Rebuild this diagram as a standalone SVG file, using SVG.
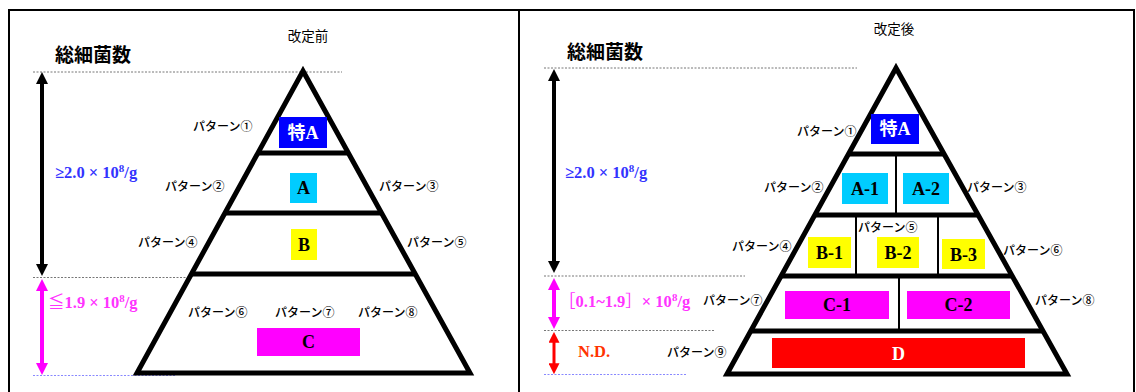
<svg xmlns="http://www.w3.org/2000/svg" width="1136" height="392" viewBox="0 0 1136 392">
<style>
.frame{fill:none;stroke:#000;stroke-width:2}
.tri{fill:#fff;stroke:#000;stroke-width:5;stroke-linejoin:miter}
.hl{stroke:#000;stroke-width:5}
.vl{stroke:#000;stroke-width:2}
.dash{stroke:#777;stroke-width:1;stroke-dasharray:2,1.5}
.dashb{stroke:#8888ff;stroke-width:1;stroke-dasharray:2,1.5}
.lbl{font-family:"Noto Sans CJK JP","Noto Sans",sans-serif;font-size:12px;font-weight:500;fill:#000}
.ttl{font-family:"Noto Sans CJK JP",sans-serif;font-size:13.5px;fill:#000}
.head{font-family:"Noto Sans CJK JP",sans-serif;font-size:19px;font-weight:bold;fill:#000}
.box{font-family:"Liberation Serif","Noto Sans CJK JP",serif;font-size:18px;font-weight:bold;text-anchor:middle}
.rng{font-family:"Liberation Serif","Noto Sans CJK JP",serif;font-size:16.5px;font-weight:bold}
</style>
<defs>
<marker id="hk" viewBox="0 0 12 12" refX="2" refY="6" markerWidth="12" markerHeight="12" markerUnits="userSpaceOnUse" orient="auto-start-reverse"><path d="M0,0 L12,6 L0,12 z" fill="#000"/></marker>
<marker id="hm" viewBox="0 0 12 12" refX="2" refY="6" markerWidth="12" markerHeight="12" markerUnits="userSpaceOnUse" orient="auto-start-reverse"><path d="M0,0 L12,6 L0,12 z" fill="#ff00ff"/></marker>
<marker id="hr" viewBox="0 0 12 12" refX="2" refY="6" markerWidth="11" markerHeight="11" markerUnits="userSpaceOnUse" orient="auto-start-reverse"><path d="M0,0 L12,6 L0,12 z" fill="#ff0000"/></marker>
</defs>

<rect class="frame" x="9" y="10" width="510" height="400"/>
<rect class="frame" x="519" y="10" width="615" height="400"/>

<!-- LEFT PANEL -->
<g id="left-header">
<text class="ttl" x="308" y="41" text-anchor="middle">改定前</text>
<text class="head" x="55" y="62">総細菌数</text>
</g>
<g id="left-guides">
<line class="dash" x1="33" y1="72" x2="342" y2="72"/>
<line class="dash" x1="33" y1="277.5" x2="232" y2="277.5"/>
<line class="dashb" x1="33" y1="375.5" x2="176" y2="375.5"/>
</g>
<g id="left-pyramid">
<polygon class="tri" points="303,71 137,373 470,373"/>
<line class="hl" x1="258" y1="153" x2="348" y2="153"/>
<line class="hl" x1="225" y1="213" x2="381" y2="213"/>
<line class="hl" x1="191" y1="274" x2="415" y2="274"/>
</g>
<g id="left-tokuA"><rect x="279" y="117" width="48" height="31" fill="#0000ff"/><text class="box" x="303" y="139" fill="#fff">特A</text></g>
<g id="left-A"><rect x="290" y="173" width="27" height="30" fill="#00ccff"/><text class="box" x="303.5" y="194" fill="#000">A</text></g>
<g id="left-B"><rect x="291" y="229" width="26" height="31" fill="#ffff00"/><text class="box" x="304" y="251" fill="#000">B</text></g>
<g id="left-C"><rect x="257" y="328" width="103" height="28" fill="#ff00ff"/><text class="box" x="308.5" y="348" fill="#000">C</text></g>
<g id="left-labels">
<text class="lbl" x="193" y="130.5">パターン①</text>
<text class="lbl" x="165" y="190.5">パターン②</text>
<text class="lbl" x="379" y="190.5">パターン③</text>
<text class="lbl" x="138" y="246.5">パターン④</text>
<text class="lbl" x="407" y="246.5">パターン⑤</text>
<text class="lbl" x="188" y="316.5">パターン⑥</text>
<text class="lbl" x="275" y="316.5">パターン⑦</text>
<text class="lbl" x="358" y="316.5">パターン⑧</text>
</g>
<g id="left-ranges">
<text class="rng" x="55" y="178" fill="#3333ff">≥2.0 × 10<tspan font-size="11" dy="-6">8</tspan><tspan dy="6">/g</tspan></text>
<text class="rng" x="48" y="308" fill="#ff33ff"><tspan font-weight="normal" font-family="Noto Sans CJK JP">≦</tspan>1.9 × 10<tspan font-size="11" dy="-6">8</tspan><tspan dy="6">/g</tspan></text>
</g>

<!-- RIGHT PANEL -->
<g id="right-header">
<text class="ttl" x="894" y="34" text-anchor="middle">改定後</text>
<text class="head" x="567" y="59">総細菌数</text>
</g>
<g id="right-guides">
<line class="dash" x1="544" y1="68" x2="857" y2="68"/>
<line class="dash" x1="544" y1="276" x2="745" y2="276"/>
<line class="dash" x1="544" y1="330.5" x2="715" y2="330.5"/>
<line class="dashb" x1="544" y1="374.5" x2="687" y2="374.5"/>
</g>
<g id="right-pyramid">
<polygon class="tri" points="896,68 727,374 1067,374"/>
<line class="hl" x1="848" y1="154" x2="944" y2="154"/>
<line class="hl" x1="815" y1="215" x2="978" y2="215"/>
<line class="hl" x1="781" y1="276" x2="1012" y2="276"/>
<line class="hl" x1="751" y1="331" x2="1043" y2="331"/>
<line class="vl" x1="896" y1="154" x2="896" y2="215"/>
<line class="vl" x1="856" y1="215" x2="856" y2="276"/>
<line class="vl" x1="938" y1="215" x2="938" y2="276"/>
<line class="vl" x1="899" y1="276" x2="899" y2="331"/>
</g>
<g id="right-tokuA"><rect x="871" y="114" width="48" height="30" fill="#0000ff"/><text class="box" x="895" y="135" fill="#fff">特A</text></g>
<g id="right-A1"><rect x="842" y="173" width="46" height="31" fill="#00ccff"/><text class="box" x="865" y="195" fill="#000">A-1</text></g>
<g id="right-A2"><rect x="903" y="173" width="46" height="31" fill="#00ccff"/><text class="box" x="926" y="195" fill="#000">A-2</text></g>
<g id="right-B1"><rect x="808" y="237" width="43" height="31" fill="#ffff00"/><text class="box" x="829.5" y="259" fill="#000">B-1</text></g>
<g id="right-B2"><rect x="877" y="237" width="42" height="31" fill="#ffff00"/><text class="box" x="898" y="259" fill="#000">B-2</text></g>
<g id="right-B3"><rect x="942" y="239" width="43" height="30" fill="#ffff00"/><text class="box" x="963.5" y="261" fill="#000">B-3</text></g>
<g id="right-C1"><rect x="785" y="291" width="104" height="28" fill="#ff00ff"/><text class="box" x="837" y="311" fill="#000">C-1</text></g>
<g id="right-C2"><rect x="907" y="291" width="103" height="28" fill="#ff00ff"/><text class="box" x="958.5" y="311" fill="#000">C-2</text></g>
<g id="right-D"><rect x="772" y="338" width="253" height="30" fill="#ff0000"/><text class="box" x="898.5" y="360" fill="#fff">D</text></g>
<g id="right-labels">
<text class="lbl" x="797" y="135.5">パターン①</text>
<text class="lbl" x="764" y="191.5">パターン②</text>
<text class="lbl" x="967" y="191.5">パターン③</text>
<text class="lbl" x="732" y="250.5">パターン④</text>
<text class="lbl" x="858" y="231.5">パターン⑤</text>
<text class="lbl" x="1003" y="254.5">パターン⑥</text>
<text class="lbl" x="703" y="304.5">パターン⑦</text>
<text class="lbl" x="1035" y="304.5">パターン⑧</text>
<text class="lbl" x="667" y="356.5">パターン⑨</text>
</g>
<g id="right-ranges">
<text class="rng" x="565" y="178" fill="#3333ff">≥2.0 × 10<tspan font-size="11" dy="-6">8</tspan><tspan dy="6">/g</tspan></text>
<text class="rng" x="559" y="307" fill="#ff33ff"><tspan font-weight="normal" font-family="Noto Sans CJK JP">［</tspan>0.1~1.9<tspan font-weight="normal" font-family="Noto Sans CJK JP">］</tspan>× 10<tspan font-size="11" dy="-6">8</tspan><tspan dy="6">/g</tspan></text>
<text class="rng" x="578" y="357" fill="#ff3300">N.D.</text>
</g>

<g id="connectors">
<line x1="42" y1="82" x2="42" y2="266" stroke="#000" stroke-width="4" marker-start="url(#hk)" marker-end="url(#hk)"/>
<line x1="42" y1="289" x2="42" y2="365" stroke="#ff00ff" stroke-width="4" marker-start="url(#hm)" marker-end="url(#hm)"/>
<line x1="554" y1="79" x2="554" y2="263" stroke="#000" stroke-width="4" marker-start="url(#hk)" marker-end="url(#hk)"/>
<line x1="554" y1="288" x2="554" y2="319" stroke="#ff00ff" stroke-width="4" marker-start="url(#hm)" marker-end="url(#hm)"/>
<line x1="554" y1="341" x2="554" y2="365" stroke="#ff0000" stroke-width="3" marker-start="url(#hr)" marker-end="url(#hr)"/>
</g>
</svg>
